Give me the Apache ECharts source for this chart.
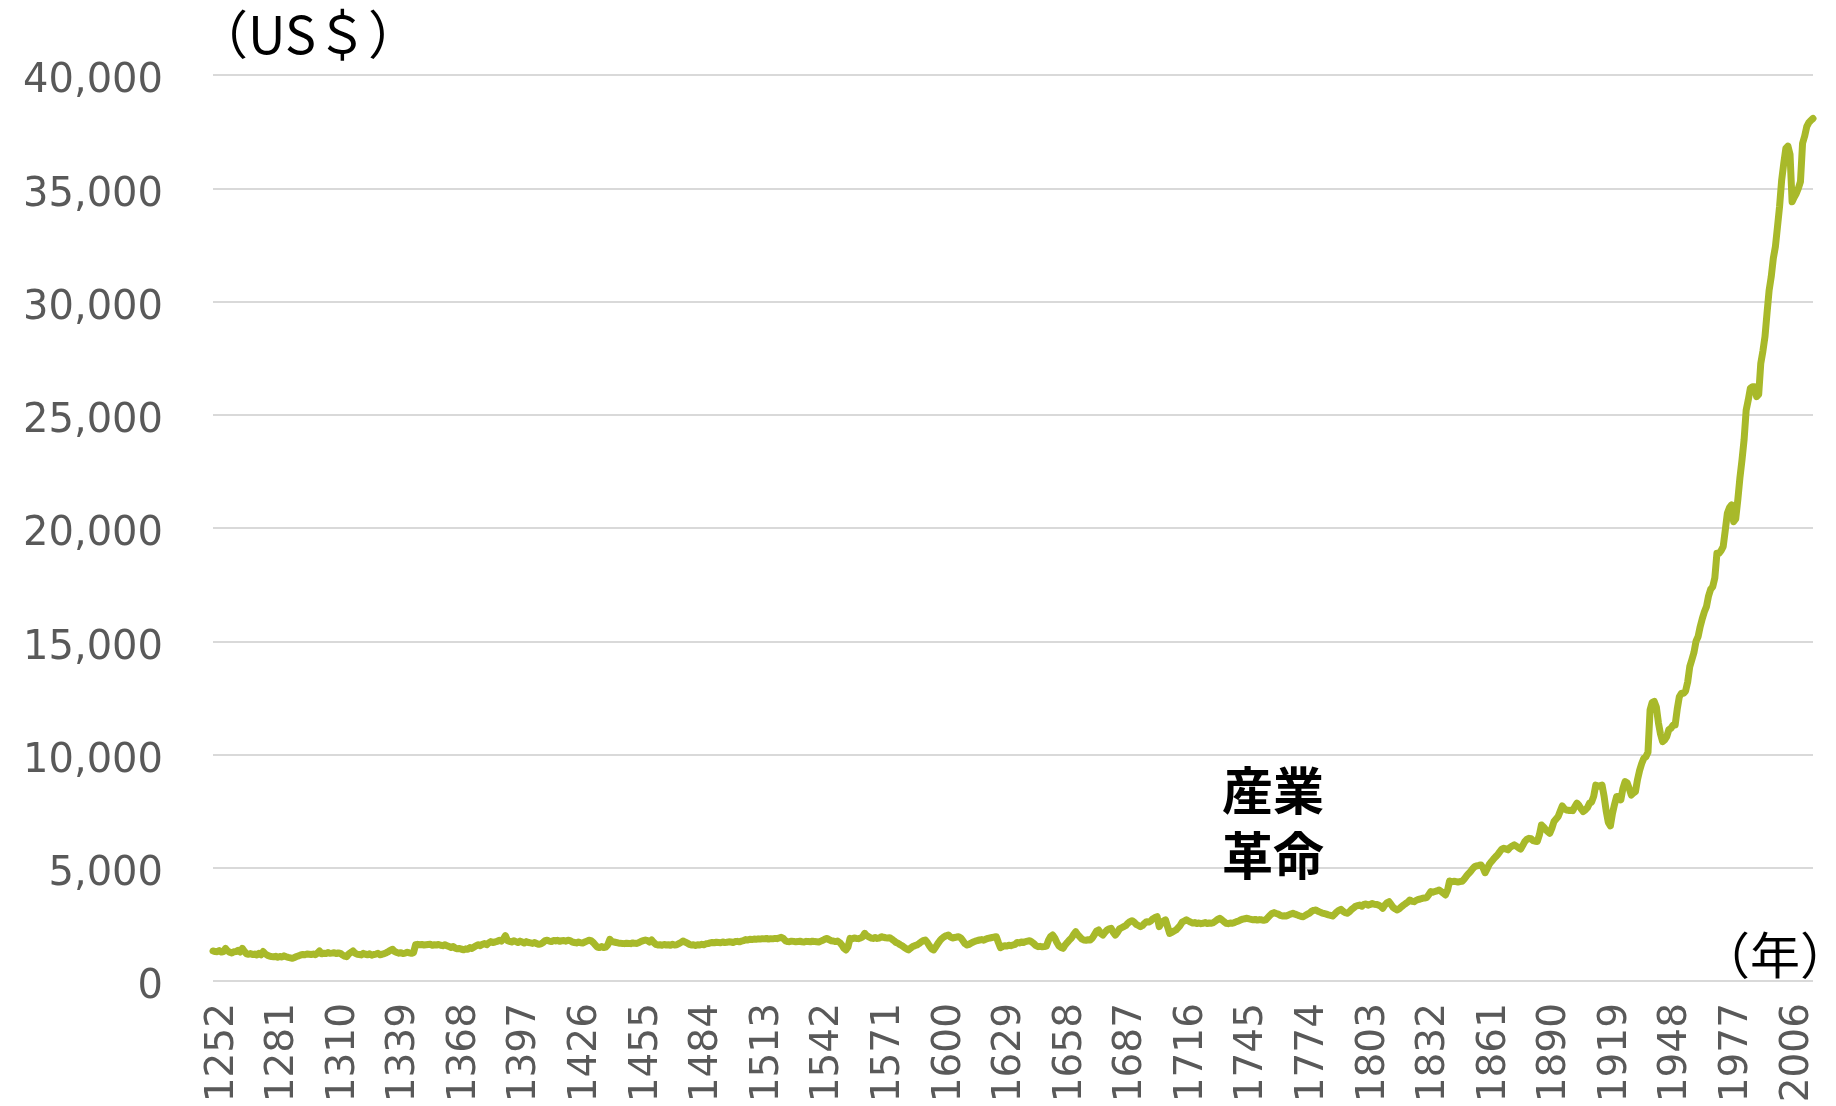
<!DOCTYPE html>
<html>
<head>
<meta charset="utf-8">
<script src="https://cdn.jsdelivr.net/npm/echarts@6/dist/echarts.min.js"></script>
<style>
html,body{margin:0;padding:0;background:#fff;}
#chart{width:1836px;height:1106px;}
</style>
</head>
<body>
<div id="chart"></div>
<script>
// GDP per capita (US$), annual values
var startYear = 1252;
var gdp1252_1299 = [
  1325,1300,1290,1340,1280,1300,1440,1330,
  1270,1236,1290,1300,1350,1280,1440,1310,1200,1180,
  1210,1170,1190,1150,1220,1160,1300,1200,1140,1100,
  1080,1070,1090,1050,1080,1060,1110,1070,1040,1020,
  1000,1040,1080,1110,1150,1170,1160,1190,1180,1170
];
var gdp1300_1399 = [
  1190,1160,1230,1325,1200,1230,1210,1260,1220,1230,
  1250,1210,1240,1220,1150,1100,1074,1200,1260,1325,
  1230,1180,1170,1150,1220,1180,1160,1200,1140,1170,
  1190,1220,1160,1180,1210,1250,1300,1360,1400,1300,
  1260,1230,1250,1210,1230,1270,1240,1220,1250,1600,
  1620,1600,1610,1590,1600,1610,1620,1580,1600,1590,
  1610,1580,1560,1600,1560,1520,1480,1520,1450,1420,
  1440,1400,1380,1420,1400,1475,1440,1500,1560,1600,
  1560,1620,1650,1600,1680,1740,1700,1720,1750,1800,
  1760,1850,2000,1780,1750,1720,1780,1740,1700,1760
];
var gdp1400_1499 = [
  1720,1680,1740,1700,1680,1660,1700,1650,1620,1640,
  1700,1780,1800,1760,1740,1790,1770,1800,1750,1780,
  1790,1760,1800,1780,1720,1700,1680,1720,1690,1680,
  1720,1760,1800,1780,1700,1600,1500,1475,1520,1480,
  1500,1600,1840,1737,1720,1700,1680,1663,1660,1650,
  1670,1660,1650,1680,1663,1660,1700,1750,1780,1810,
  1780,1720,1810,1700,1620,1590,1600,1580,1610,1590,
  1600,1580,1620,1590,1600,1650,1700,1766,1720,1680,
  1620,1590,1600,1570,1600,1590,1620,1600,1640,1650,
  1680,1700,1690,1710,1700,1690,1720,1700,1710,1730
];
var gdp1500_1599 = [
  1720,1700,1740,1750,1730,1760,1780,1830,1810,1840,
  1830,1850,1840,1860,1850,1870,1860,1880,1850,1870,
  1860,1880,1870,1900,1930,1880,1780,1740,1737,1760,
  1750,1730,1740,1760,1730,1720,1750,1740,1730,1760,
  1740,1730,1720,1760,1800,1850,1880,1820,1780,1766,
  1740,1766,1700,1600,1450,1370,1500,1880,1860,1900,
  1880,1870,1900,1950,2105,2000,1950,1900,1880,1920,
  1880,1900,1955,1930,1910,1900,1910,1850,1780,1700,
  1663,1600,1550,1480,1420,1370,1450,1520,1560,1590,
  1650,1720,1780,1810,1700,1550,1420,1370,1500,1650
];
var gdp1600_1699 = [
  1780,1880,1950,2000,2032,1950,1900,1920,1940,1955,
  1900,1780,1650,1590,1620,1680,1720,1760,1790,1810,
  1830,1800,1850,1880,1900,1920,1940,1955,1700,1472,
  1520,1560,1540,1580,1560,1590,1620,1700,1680,1720,
  1700,1740,1760,1780,1720,1650,1560,1516,1530,1510,
  1520,1540,1800,1960,2030,1900,1700,1550,1480,1442,
  1600,1700,1810,1900,2050,2177,2050,1950,1850,1810,
  1800,1820,1810,1900,2050,2200,2252,2100,2030,2150,
  2250,2300,2325,2150,2030,2150,2300,2350,2400,2450,
  2550,2620,2663,2600,2500,2450,2400,2450,2550,2620
];
var gdp1700_1799 = [
  2600,2650,2750,2800,2840,2400,2550,2650,2700,2400,
  2100,2150,2200,2250,2350,2450,2600,2650,2700,2650,
  2600,2560,2580,2540,2560,2530,2550,2580,2540,2560,
  2550,2580,2650,2720,2770,2700,2620,2550,2530,2560,
  2550,2580,2620,2650,2700,2730,2750,2770,2740,2720,
  2700,2720,2690,2710,2700,2680,2700,2800,2900,2980,
  3020,2980,2950,2900,2870,2880,2870,2920,2960,2990,
  2950,2920,2880,2850,2840,2900,2950,3000,3080,3120,
  3135,3080,3040,3000,2980,2950,2920,2900,2870,2950,
  3050,3120,3165,3080,3020,2990,3050,3150,3220,3300
];
var gdp1800_1899 = [
  3330,3355,3300,3380,3400,3350,3380,3420,3390,3380,
  3350,3300,3210,3350,3450,3500,3380,3250,3180,3135,
  3200,3280,3355,3420,3480,3575,3520,3503,3560,3600,
  3620,3650,3660,3680,3800,3945,3920,3950,3980,4020,
  3950,3880,3800,4000,4415,4380,4400,4390,4370,4390,
  4400,4500,4620,4730,4830,4950,5050,5080,5100,5125,
  5000,4780,4950,5150,5270,5380,5480,5570,5700,5820,
  5860,5830,5790,5900,5960,6010,5950,5880,5820,5980,
  6150,6250,6300,6280,6200,6170,6160,6450,6890,6800,
  6680,6600,6520,6750,7040,7150,7260,7500,7730,7600
];
var gdp1900_1999 = [
  7550,7530,7540,7520,7700,7850,7750,7600,7480,7550,
  7650,7850,7900,8150,8650,8600,8620,8650,8150,7500,
  7000,6850,7400,7800,8150,8150,8000,8500,8800,8750,
  8500,8210,8300,8360,8900,9300,9600,9830,9900,10100,
  11970,12300,12340,12100,11400,10900,10570,10650,10790,11100,
  11160,11300,11300,12000,12550,12700,12700,12800,13200,13880,
  14180,14500,15000,15210,15650,16000,16300,16530,17000,17300,
  17410,17800,18880,18880,19000,19180,19900,20650,20900,21020,
  20280,20400,21240,22200,23000,23890,25200,25650,26170,26240,
  26240,25800,25900,27270,27800,28440,29500,30500,31090,31900
];
var gdp2000_2018 = [
  32420,33300,34200,35360,36100,36760,36860,36500,34400,34600,
  34770,35000,35290,36980,37300,37720,37900,38000,38080
];

var values = [].concat(gdp1252_1299, gdp1300_1399, gdp1400_1499, gdp1500_1599,
  gdp1600_1699, gdp1700_1799, gdp1800_1899, gdp1900_1999, gdp2000_2018);
var years = [];
for (var i = 0; i < values.length; i++) years.push(String(startYear + i));

var yTicks = { min: 0, max: 40000, interval: 5000 };
var unitLabel = '（US＄）';
var yearLabel = '（年）';
var noteText = '産業\n革命';

var chart = echarts.init(document.getElementById('chart'), null, { renderer: 'canvas' });
chart.setOption({
  animation: false,
  backgroundColor: '#ffffff',
  grid: { left: 213, right: 23, top: 75, bottom: 125, containLabel: false },
  xAxis: {
    type: 'category',
    data: years,
    boundaryGap: false,
    axisLine: { show: false },
    axisTick: { show: false },
    axisLabel: {
      interval: 28,
      rotate: 90,
      margin: 22,
      verticalAlign: 'top',
      lineHeight: 19,
      color: '#595959',
      fontFamily: 'DejaVu Sans',
      fontSize: 39
    },
    splitLine: { show: false }
  },
  yAxis: {
    type: 'value',
    min: yTicks.min,
    max: yTicks.max,
    interval: yTicks.interval,
    axisLine: { show: false },
    axisTick: { show: false },
    axisLabel: {
      margin: 50,
      verticalAlign: 'top',
      lineHeight: 14,
      color: '#595959',
      fontFamily: 'DejaVu Sans',
      fontSize: 40
    },
    splitLine: { lineStyle: { color: '#d9d9d9', width: 2 } }
  },
  series: [{
    type: 'line',
    data: values,
    showSymbol: false,
    smooth: false,
    z: 3,
    lineStyle: { color: '#A8B92A', width: 7, cap: 'round', join: 'round' }
  }],
  graphic: [
    { type: 'text', left: 196, top: 8, z: 100,
      style: { text: unitLabel, fill: '#000', font: '52px "Noto Sans CJK JP"' } },
    { type: 'text', left: 1700, top: 930, z: 100,
      style: { text: yearLabel, fill: '#000', font: '50px "Noto Sans CJK JP"' } },
    { type: 'text', left: 1222, top: 758, z: 100,
      style: { text: noteText, fill: '#000', font: 'bold 51px "Noto Sans CJK JP"', lineHeight: 65 } }
  ]
});
</script>
</body>
</html>
